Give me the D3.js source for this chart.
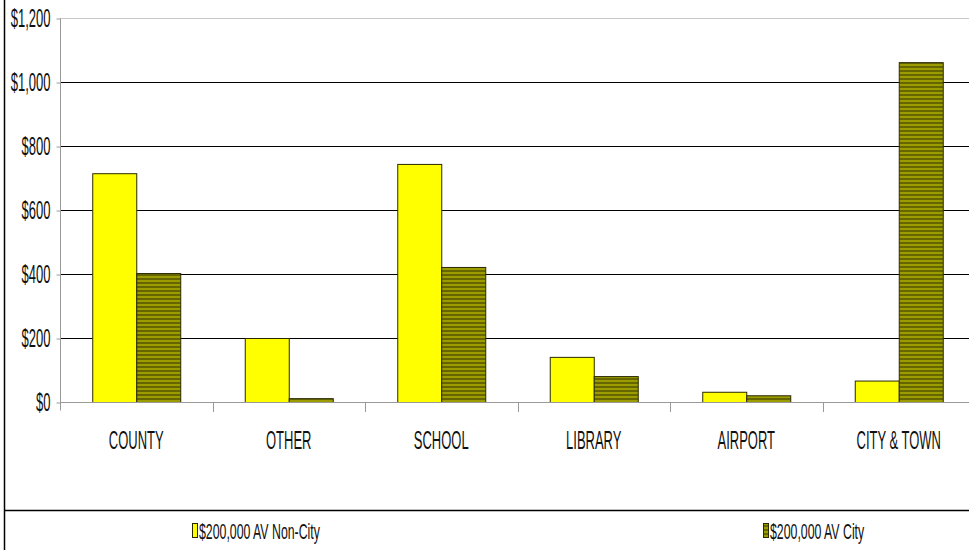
<!DOCTYPE html>
<html>
<head>
<meta charset="utf-8">
<script src="https://cdn.jsdelivr.net/npm/d3@7"></script>
<style>
  body { margin: 0; background: #fff; }
  svg { display: block; font-family: "Liberation Sans", Arial, sans-serif; }
  .axis path, .axis line { stroke: #999; }
</style>
</head>
<body>
<svg id="chart" width="969" height="550"></svg>
<script>
// data
const categories = ["COUNTY", "OTHER", "SCHOOL", "LIBRARY", "AIRPORT", "CITY & TOWN"];
const seriesNames = ["$200,000 AV Non-City", "$200,000 AV City"];
const nonCity = [715, 200, 744, 141, 32, 67];
const city = [403, 12, 422, 81, 21, 1062];
const yTicks = [0, 200, 400, 600, 800, 1000, 1200];

const W = 969, H = 550;
const plot = {left: 60, right: 975, top: 18, bottom: 402};
const squeeze = 0.52; // the reference text is tall and narrow

const svg = d3.select("#chart");

// stripes for the city bars
const pat = svg.append("defs").append("pattern")
    .attr("id", "stripes")
    .attr("patternUnits", "userSpaceOnUse")
    .attr("width", 8).attr("height", 4);
pat.append("rect").attr("width", 8).attr("height", 2).attr("fill", "#9c9c00");
pat.append("rect").attr("y", 2).attr("width", 8).attr("height", 2).attr("fill", "#666600");

const fills = ["#ffff00", "url(#stripes)"];

// scales
const x0 = d3.scaleBand().domain(categories).range([plot.left, plot.right]);
const x1 = d3.scaleBand().domain(seriesNames).range([0, x0.bandwidth()])
    .paddingInner(0).paddingOuter(0.733);
const y = d3.scaleLinear().domain([0, 1200]).range([plot.bottom, plot.top]);

// gridlines
svg.append("g")
    .selectAll("line")
    .data(yTicks.filter(d => d > 0))
    .join("line")
        .attr("x1", plot.left).attr("x2", W)
        .attr("y1", d => y(d) + 0.5).attr("y2", d => y(d) + 0.5)
        .attr("stroke", d => d === 1200 ? "#c8c8c8" : "#000")
        .attr("stroke-width", 1);

// bars
const rows = categories.map((c, i) => ({cat: c, vals: [nonCity[i], city[i]]}));
svg.append("g")
    .selectAll("g")
    .data(rows)
    .join("g")
        .attr("transform", d => `translate(${x0(d.cat)},0)`)
    .selectAll("rect")
    .data(d => d.vals.map((v, k) => ({s: seriesNames[k], k, v})))
    .join("rect")
        .attr("x", d => x1(d.s) + 0.5)
        .attr("y", d => y(d.v) + 0.5)
        .attr("width", x1.bandwidth())
        .attr("height", d => y(0) - y(d.v))
        .attr("fill", d => fills[d.k])
        .attr("stroke", "#2a2a00")
        .attr("stroke-width", 1);

// y axis
const yAxis = svg.append("g")
    .attr("class", "axis")
    .attr("transform", `translate(${plot.left + 0.5},0.5)`)
    .call(d3.axisLeft(y).tickValues(yTicks).tickFormat(d3.format("$,")).tickSize(4).tickSizeOuter(0));
yAxis.select(".domain").attr("d", `M0,${plot.top}V${plot.bottom + 8}`);
yAxis.selectAll("text")
    .attr("x", -10 / squeeze)
    .attr("transform", `scale(${squeeze},1)`)
    .attr("fill", "#111")
    .style("font-size", "25px");

// x axis
const xAxis = svg.append("g")
    .attr("class", "axis")
    .attr("transform", `translate(0,${plot.bottom + 0.5})`)
    .call(d3.axisBottom(x0).tickSize(0).tickSizeOuter(0));
xAxis.select(".domain").attr("stroke", "#000").attr("d", `M${plot.left},0H${W}`);
xAxis.selectAll("text")
    .attr("y", 0).attr("dy", "0")
    .attr("transform", `translate(0,46) scale(${squeeze},1)`)
    .attr("fill", "#111")
    .style("font-size", "25px");
xAxis.selectAll(".tick text").each(function() {
    const t = d3.select(this.parentNode).attr("transform");
    const tx = +t.match(/translate\(([-\d.]+)/)[1];
    d3.select(this.parentNode).attr("transform", null);
    d3.select(this).attr("x", tx / squeeze);
});
// category separators
svg.append("g")
    .selectAll("line")
    .data(categories.slice(1))
    .join("line")
        .attr("x1", d => Math.round(x0(d)) + 0.5).attr("x2", d => Math.round(x0(d)) + 0.5)
        .attr("y1", plot.bottom + 1).attr("y2", plot.bottom + 10)
        .attr("stroke", "#999");

// frame: left edge and legend separator
svg.append("line").attr("x1", 4.5).attr("x2", 4.5).attr("y1", 0).attr("y2", H)
    .attr("stroke", "#000").attr("stroke-width", 1.5);
svg.append("line").attr("x1", 4).attr("x2", W).attr("y1", 510.5).attr("y2", 510.5)
    .attr("stroke", "#000").attr("stroke-width", 1.5);

// legend
const legendX = [192, 763];
const legend = svg.append("g")
    .selectAll("g")
    .data(seriesNames)
    .join("g")
        .attr("transform", (d, i) => `translate(${legendX[i]},523)`);
legend.append("rect")
    .attr("x", 0.5).attr("y", 0.5)
    .attr("width", 5).attr("height", 14)
    .attr("fill", (d, i) => fills[i])
    .attr("stroke", "#2a2a00");
legend.append("text")
    .attr("x", 7 / 0.56).attr("y", 16)
    .attr("transform", "scale(0.56,1)")
    .attr("fill", "#111")
    .style("font-size", "22px")
    .text(d => d);
</script>
</body>
</html>
